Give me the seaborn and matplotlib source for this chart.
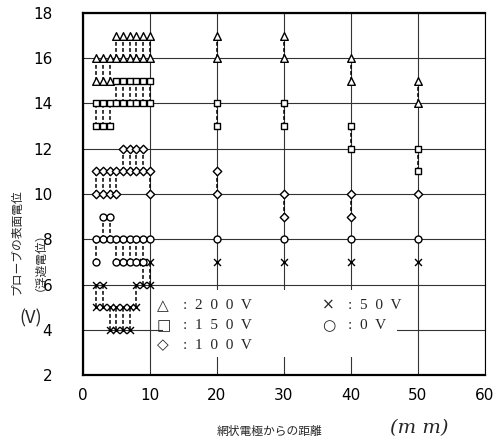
import pandas as pd
import seaborn as sns
import matplotlib.pyplot as plt
from matplotlib.patches import Rectangle

# distance from mesh electrode (mm)
x_pos = [2, 3, 4, 5, 6, 7, 8, 9, 10, 20, 30, 40, 50]

# floating potential range (V) for each applied voltage: low / high
v200_lo = [15, 15, 15, 16, 16, 16, 16, 16, 16, 16, 16, 15, 14]
v200_hi = [16, 16, 16, 17, 17, 17, 17, 17, 17, 17, 17, 16, 15]
v150_lo = [13, 13, 13, 14, 14, 14, 14, 14, 14, 13, 13, 12, 11]
v150_hi = [14, 14, 14, 15, 15, 15, 15, 15, 15, 14, 14, 13, 12]
v100_lo = [10, 10, 10, 10, 11, 11, 11, 11, 10, 10, 9, 9, 10]
v100_hi = [11, 11, 11, 11, 12, 12, 12, 12, 11, 11, 10, 10, 10]
v50_lo = [5, 5, 4, 4, 4, 4, 5, 6, 6, 7, 7, 7, 7]
v50_hi = [6, 6, 5, 5, 5, 5, 6, 7, 7, 7, 7, 7, 7]
v0_lo = [7, 8, 8, 7, 7, 7, 7, 7, 8, 8, 8, 8, 8]
v0_hi = [8, 9, 9, 8, 8, 8, 8, 8, 8, 8, 8, 8, 8]

series = {
    "200V": (v200_lo, v200_hi),
    "150V": (v150_lo, v150_hi),
    "100V": (v100_lo, v100_hi),
    "50V": (v50_lo, v50_hi),
    "0V": (v0_lo, v0_hi),
}
markers = {"200V": "^", "150V": "s", "100V": "D", "50V": "x", "0V": "o"}
sizes = {"200V": 5.5, "150V": 5, "100V": 4.3, "50V": 5, "0V": 5}

# key entries: symbol, text
key_left = [("△", "200V"), ("□", "150V"), ("◇", "100V")]
key_right = [("×", "50V"), ("○", "0V")]

rows = []
for name, (lo, hi) in series.items():
    for x, a, b in zip(x_pos, lo, hi):
        rows.append({"x": x, "y": a, "V": name})
        if b != a:
            rows.append({"x": x, "y": b, "V": name})
df = pd.DataFrame(rows)

sns.set_theme(style="white")
plt.rcParams["font.family"] = ["DejaVu Sans", "Noto Sans CJK JP"]

fig = plt.figure(figsize=(4.99, 4.44), dpi=100)
ax = fig.add_axes([0.166, 0.155, 0.806, 0.816])

# dashed links between min and max readings
for name, (lo, hi) in series.items():
    ax.vlines(x_pos, lo, hi, colors="black", linestyles=(0, (2.5, 1.5)),
              linewidth=1.1, zorder=3)

for name in series:
    d = df[df["V"] == name]
    m = markers[name]
    if m == "x":
        sns.scatterplot(data=d, x="x", y="y", marker="x", color="black",
                        s=sizes[name] ** 2, linewidth=1.0, ax=ax, zorder=4,
                        legend=False)
    else:
        sns.scatterplot(data=d, x="x", y="y", marker=m, facecolor="white",
                        edgecolor="black", s=sizes[name] ** 2, linewidth=1.0,
                        ax=ax, zorder=4, legend=False)

ax.set_xlim(0, 60)
ax.set_ylim(2, 18)
ax.set_xticks(range(0, 61, 10))
ax.set_yticks(range(2, 19, 2))
ax.grid(True, color="#333333", linewidth=0.8)
ax.tick_params(length=0, labelsize=11, colors="black")
ax.tick_params(axis="y", pad=22)
ax.tick_params(axis="x", pad=9)
ax.set_xlabel("")
ax.set_ylabel("")
for side in ["top", "left", "bottom"]:
    ax.spines[side].set_linewidth(1.6)
    ax.spines[side].set_color("black")
ax.spines["right"].set_linewidth(0.8)
ax.spines["right"].set_color("black")

# white panel behind the key
ax.add_patch(Rectangle((0.2, 0.05), 0.58, 0.185, transform=ax.transAxes,
                       facecolor="white", edgecolor="none", zorder=2.5))
serif = ["Liberation Serif", "DejaVu Serif"]
for col_x, entries in [(0.184, key_left), (0.595, key_right)]:
    for i, (sym, lab) in enumerate(entries):
        yy = 0.193 - i * 0.055
        ax.text(col_x, yy, sym, transform=ax.transAxes, fontsize=11,
                family="DejaVu Sans", va="center", zorder=5)
        ax.text(col_x + 0.065, yy, ":  " + "  ".join(lab),
                transform=ax.transAxes, fontsize=11, family=serif,
                va="center", zorder=5)

# axis titles
jp = ["Noto Sans CJK JP", "DejaVu Sans"]
fig.text(0.034, 0.455, "プローブの表面電位", rotation=90, fontsize=8.5,
         family=jp, ha="center", va="center")
fig.text(0.068, 0.425, "（浮遊電位）", rotation=90, fontsize=8.5,
         family=jp, ha="center", va="center")
fig.text(0.062, 0.284, "(V)", fontsize=13, family=jp, ha="center", va="center")
fig.text(0.54, 0.028, "網状電極からの距離", fontsize=8.5, family=jp,
         ha="center", va="center")
fig.text(0.84, 0.035, "(m m)", fontsize=14, family="DejaVu Serif",
         style="italic", ha="center", va="center")

fig.savefig("out.png", dpi=100, facecolor="white")
